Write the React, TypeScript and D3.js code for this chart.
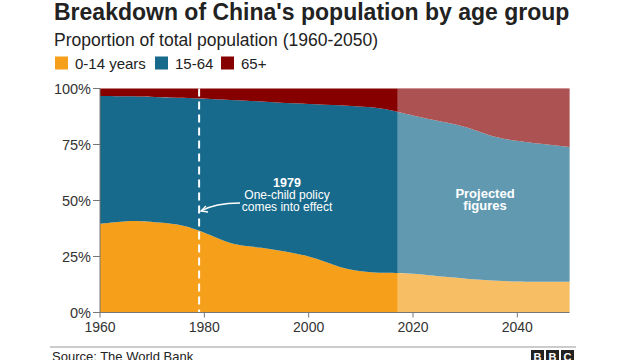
import React from "react";
import * as d3 from "d3";

const years = [1960, 1963, 1965, 1968, 1970, 1975, 1979, 1982, 1985, 1988, 1991, 1994, 1997, 2000, 2003, 2006, 2009, 2012, 2015, 2017, 2020, 2023, 2026, 2030, 2033, 2036, 2040, 2043, 2046, 2050];
const child = [39.6, 40.3, 40.9, 40.8, 40.4, 39.6, 36.7, 33.6, 30.8, 29.6, 29.0, 27.8, 26.6, 25.2, 22.8, 20.2, 18.6, 17.9, 17.7, 17.7, 17.3, 16.7, 16.0, 15.2, 14.6, 14.1, 13.8, 13.7, 13.7, 13.7];
const elderly = [3.4, 3.4, 3.5, 3.6, 3.8, 4.2, 4.5, 4.8, 5.1, 5.4, 5.8, 6.2, 6.6, 6.9, 7.2, 7.5, 7.9, 8.2, 9.2, 10.4, 12.0, 13.7, 15.0, 17.0, 19.5, 21.9, 23.5, 24.3, 25.0, 26.1];
const keys = ["0-14 years", "15-64", "65+"];
const colors = ["#F59F1A", "#176A8B", "#870000"];
const xTicks = [1960, 1980, 2000, 2020, 2040];
const yTicks = [0, 25, 50, 75, 100];
const projectionStart = 2017;
const policyYear = 1979;

export default function App() {
  const W = 640, H = 360;
  const x = d3.scaleLinear().domain([1960, 2050]).range([100, 569.5]);
  const y = d3.scaleLinear().domain([0, 100]).range([312.5, 88.5]);
  const rows = years.map((yr, i) => ({
    year: yr,
    [keys[0]]: child[i],
    [keys[1]]: 100 - child[i] - elderly[i],
    [keys[2]]: elderly[i],
  }));
  const series = d3.stack<any>().keys(keys)(rows);
  const area = d3
    .area<any>()
    .x((d) => x(d.data.year))
    .y0((d) => y(d[0]))
    .y1((d) => y(d[1]))
    .curve(d3.curveBasis);
  const font = "'Liberation Sans', Arial, Helvetica, sans-serif";
  const xp = x(policyYear);
  return (
    <svg width={W} height={H} style={{ position: "absolute", left: 0, top: 0, background: "#fff" }} fontFamily={font}>
      <text x={54} y={20} fontSize={23} fontWeight="bold" fill="#222">Breakdown of China's population by age group</text>
      <text x={54} y={46} fontSize={17.5} fill="#222">Proportion of total population (1960-2050)</text>
      {keys.map((k, i) => {
        const lx = [55, 155, 221][i];
        return (
          <g key={k}>
            <rect x={lx} y={56.5} width={13} height={13} fill={colors[i]} />
            <text x={lx + 20} y={68.5} fontSize={15} fill="#222">{k}</text>
          </g>
        );
      })}
      {series.map((s, i) => (
        <path key={s.key} d={area(s) || ""} fill={colors[i]} />
      ))}
      <rect x={x(projectionStart)} y={y(100)} width={x(2050) - x(projectionStart)} height={y(0) - y(100)} fill="#fff" opacity={0.32} />
      <line x1={xp} x2={xp} y1={y(100)} y2={y(0)} stroke="#fff" strokeWidth={2} strokeDasharray="8,5" />
      <line x1={x(1960)} x2={x(1960)} y1={y(100)} y2={y(0)} stroke="#777" strokeWidth={1} />
      <line x1={x(1960)} x2={x(2050)} y1={y(0)} y2={y(0)} stroke="#777" strokeWidth={1} />
      {yTicks.map((t) => (
        <g key={t}>
          <line x1={93} x2={100} y1={y(t)} y2={y(t)} stroke="#777" />
          <text x={91} y={y(t) + 5} fontSize={14.5} textAnchor="end" fill="#333">{t}%</text>
        </g>
      ))}
      {xTicks.map((t) => (
        <g key={t}>
          <line x1={x(t)} x2={x(t)} y1={y(0)} y2={y(0) + 5} stroke="#777" />
          <text x={x(t)} y={332} fontSize={14} textAnchor="middle" fill="#333">{t}</text>
        </g>
      ))}
      <text x={287} y={187} fontSize={12.5} fontWeight="bold" textAnchor="middle" fill="#fff">1979</text>
      <text x={287} y={199} fontSize={12} textAnchor="middle" fill="#fff">One-child policy</text>
      <text x={287} y={210.5} fontSize={12} textAnchor="middle" fill="#fff">comes into effect</text>
      <path d="M240,203 Q215,203 201,211" fill="none" stroke="#fff" strokeWidth={1.3} />
      <path d="M206,206 L201,211 L208,212" fill="none" stroke="#fff" strokeWidth={1.3} />
      <text x={485} y={198} fontSize={13} fontWeight="bold" textAnchor="middle" fill="#fff">Projected</text>
      <text x={485} y={210} fontSize={13} fontWeight="bold" textAnchor="middle" fill="#fff">figures</text>
      <line x1={50} x2={576} y1={347} y2={347} stroke="#999" strokeWidth={1} />
      <text x={52} y={361} fontSize={13} fill="#222">Source: The World Bank</text>
      {["B", "B", "C"].map((c, i) => (
        <g key={i}>
          <rect x={531 + i * 15} y={350} width={13} height={13} fill="#222" />
          <text x={537.5 + i * 15} y={361} fontSize={11} fontWeight="bold" textAnchor="middle" fill="#fff">{c}</text>
        </g>
      ))}
    </svg>
  );
}
